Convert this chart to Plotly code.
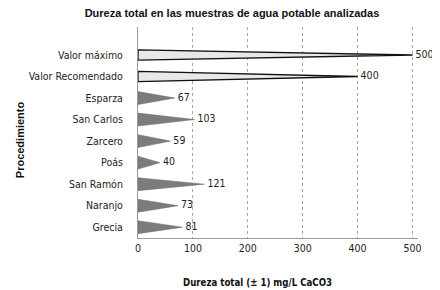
import plotly.graph_objects as go

categories = ["Valor máximo", "Valor Recomendado", "Esparza", "San Carlos", "Zarcero",
              "Poás", "San Ramón", "Naranjo", "Grecia"]
values = [500, 400, 67, 103, 59, 40, 121, 73, 81]
reference_flags = [True, True, False, False, False, False, False, False, False]
x_ticks = [0, 100, 200, 300, 400, 500]

n = len(categories)
ypos = [n - 1 - i for i in range(n)]

NARROW = "DejaVu Sans Condensed, Liberation Sans Narrow, Liberation Sans"

fig = go.Figure()

def cone_trace(idx, half, fill, line_color, line_width):
    xs, ys = [], []
    for i in idx:
        v, y = values[i], ypos[i]
        xs += [0, v, 0, 0, None]
        ys += [y - half, y, y + half, y - half, None]
    return go.Scatter(x=xs, y=ys, mode="lines", fill="toself", fillcolor=fill,
                      line=dict(color=line_color, width=line_width),
                      hoverinfo="skip", showlegend=False)

ref_idx = [i for i in range(n) if reference_flags[i]]
smp_idx = [i for i in range(n) if not reference_flags[i]]
fig.add_trace(cone_trace(smp_idx, 0.30, "#7c7c7c", "#6a6a6a", 0.5))
fig.add_trace(cone_trace(ref_idx, 0.24, "#e8e8e8", "#111111", 1.3))

fig.add_trace(go.Scatter(
    x=values, y=ypos, mode="text",
    text=[" " + str(v) for v in values], textposition="middle right",
    textfont=dict(family=NARROW, size=10.5, color="#222222"),
    hoverinfo="skip", showlegend=False, cliponaxis=False))

W, H = 432, 282
fig.update_layout(
    width=W, height=H,
    margin=dict(l=130, r=21.5, t=19, b=52),
    paper_bgcolor="white", plot_bgcolor="white",
    title=dict(text="<b>Dureza total en las muestras de agua potable analizadas</b>",
               x=224 / W, xanchor="center", y=1 - 1 / H, yanchor="top",
               font=dict(family="Liberation Sans, Arial", size=11, color="#111111")),
    xaxis=dict(range=[0, 510], tickvals=x_ticks, ticktext=[str(t) for t in x_ticks],
               automargin=False,
               showgrid=True, gridcolor="#a6a6a6", griddash="dot", gridwidth=1,
               showline=True, linecolor="#9a9a9a", zeroline=False, ticks="",
               tickfont=dict(family=NARROW, size=10.5, color="#222222")),
    yaxis=dict(range=[-0.5, 9.3], tickvals=ypos, ticktext=categories,
               automargin=False,
               showgrid=False, showline=True, linecolor="#9a9a9a", zeroline=False,
               ticks="", ticklabelstandoff=12,
               tickfont=dict(family=NARROW, size=10.5, color="#222222")),
    annotations=[
        dict(text="<b>Dureza total (± 1) mg/L CaCO3</b>", xref="paper", yref="paper",
             x=120 / 280.5, y=-44 / 211, xanchor="center", yanchor="middle", showarrow=False,
             font=dict(family=NARROW, size=9.6, color="#111111")),
        dict(text="<b>Procedimiento</b>", xref="paper", yref="paper",
             x=-118 / 280.5, y=(238 - 140) / 211, xanchor="center", yanchor="middle",
             textangle=-90, showarrow=False,
             font=dict(family="Liberation Sans, Arial", size=11, color="#111111")),
    ],
)

fig.write_html("out.html")
